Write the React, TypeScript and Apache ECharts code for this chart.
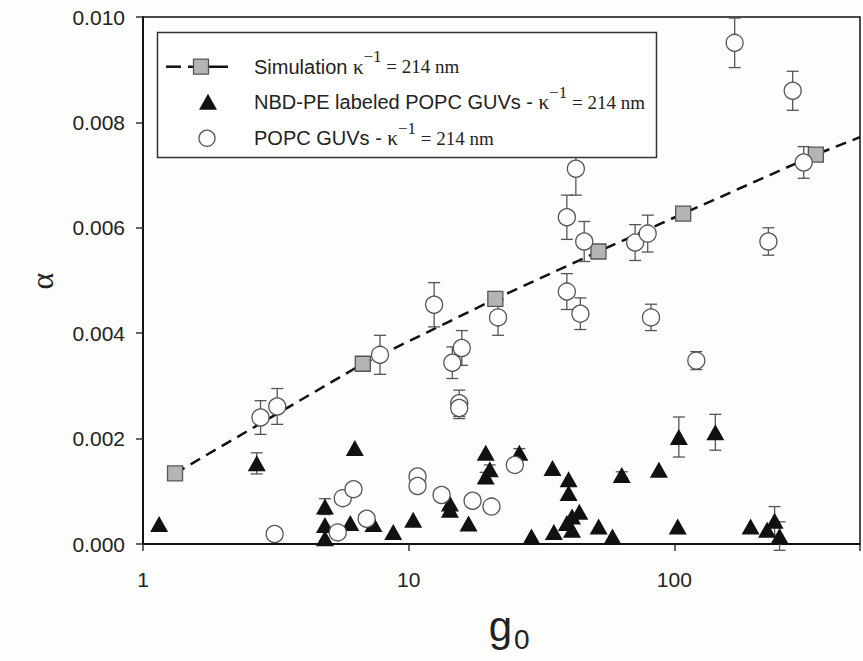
import React, { useEffect, useRef } from 'react';
import * as echarts from 'echarts';

// ---- data ----
const xTickValues = [1, 10, 100];
const yTickStep = 0.002;

// Simulation (kappa^-1 = 214 nm)
const simG = [1.32, 6.72, 21.2, 51.8, 108, 341];
const simA = [0.00134, 0.00342, 0.00465, 0.00555, 0.00627, 0.00739];
const simLineEndG = 500;
const simLineEndA = 0.00772;

// NBD-PE labeled POPC GUVs
const nbdG = [1.15, 2.68, 4.84, 4.84, 4.84, 6.27, 6.03, 7.37, 8.75, 10.4, 14.3, 14.3, 16.8, 19.5, 20.2, 19.5, 26.1, 29, 34.8, 35.2, 40, 40, 39.4, 41.2, 43.9, 41.2, 51.9, 58.5, 63.4, 87.5, 104, 103, 142.7, 193.7, 223.5, 238.5, 249];
const nbdA = [0.00038, 0.00153, 0.00071, 0.00036, 0.00011, 0.00182, 0.0004, 0.00038, 0.00023, 0.00046, 0.00077, 0.00065, 0.00039, 0.00173, 0.00142, 0.00128, 0.00173, 0.00014, 0.00144, 0.00023, 0.00123, 0.00097, 0.0004, 0.00052, 0.00061, 0.00027, 0.00033, 0.00014, 0.00131, 0.00141, 0.00203, 0.00033, 0.00212, 0.00033, 0.00027, 0.00044, 0.00015];
const nbdErr = [0, 0.0002, 0.00015, 0, 0, 0, 0, 0, 0, 0, 0, 0, 0, 0, 0.00008, 0.00008, 0.00008, 0, 0, 0, 0, 0, 0, 0, 0, 0, 0, 0, 0.00006, 0, 0.00038, 0, 0.00034, 0, 0, 0.00027, 0.00027];

// POPC GUVs
const popcG = [2.77, 3.2, 3.13, 5.41, 5.65, 6.2, 6.95, 10.8, 10.8, 13.3, 17.4, 20.5, 25.1, 7.8, 12.47, 14.6, 15.85, 15.5, 15.5, 21.7, 39.4, 39.4, 42.6, 44.3, 45.8, 71.2, 79.4, 81.7, 121, 168.7, 226, 279, 307];
const popcA = [0.0024, 0.00261, 0.00019, 0.00022, 0.00087, 0.00104, 0.00048, 0.00128, 0.0011, 0.00093, 0.00082, 0.00071, 0.0015, 0.00359, 0.00454, 0.00344, 0.00372, 0.00267, 0.00258, 0.0043, 0.0062, 0.00479, 0.00712, 0.00437, 0.00574, 0.00572, 0.00589, 0.0043, 0.00348, 0.00951, 0.00574, 0.0086, 0.00724];
const popcErr = [0.00032, 0.00034, 0, 0, 0, 0, 0, 0, 0, 0, 0, 0, 0, 0.00037, 0.00042, 0.0003, 0.00033, 0.00025, 0.0002, 0.00034, 0.00042, 0.00034, 0.0005, 0.0003, 0.00038, 0.00034, 0.00035, 0.00025, 0.00017, 0.00047, 0.00026, 0.00037, 0.0003];

const SANS = '"Liberation Sans", Arial, Helvetica, sans-serif';
const SERIF = '"Liberation Serif", "Times New Roman", serif';

type Frag = { text: string; family: string; size: number; dy?: number };

export default function App() {
  const ref = useRef<HTMLDivElement>(null);
  useEffect(() => {
    if (!ref.current) return;
    const chart = echarts.init(ref.current, undefined, { renderer: 'svg' });
    const ctx = document.createElement('canvas').getContext('2d')!;

    const frags = (x0: number, y: number, parts: Frag[]) => {
      let x = x0;
      const out: any[] = [];
      for (const p of parts) {
        ctx.font = `${p.size}px ${p.family}`;
        const w = ctx.measureText(p.text).width;
        out.push({
          type: 'text',
          x,
          y: y + (p.dy || 0),
          z: 101,
          style: {
            text: p.text,
            fontSize: p.size,
            fontFamily: p.family,
            fill: '#222',
            align: 'left',
            verticalAlign: 'middle',
            textAlign: 'left',
            textVerticalAlign: 'middle',
          },
        });
        x += w;
      }
      return out;
    };

    const kappaParts = (prefix: string): Frag[] => [
      { text: prefix, family: SANS, size: 20 },
      { text: 'κ', family: SERIF, size: 21 },
      { text: '−1', family: SERIF, size: 17, dy: -10 },
      { text: ' = 214 nm', family: SERIF, size: 19 },
    ];

    const rowY = [66.7, 102.3, 138.3];
    const textX = 254;

    const errSeries = (g: number[], a: number[], e: number[]) => ({
      type: 'custom',
      z: 2,
      silent: true,
      data: g.map((v, i) => [v, a[i], e[i]]),
      renderItem: (_p: any, api: any) => {
        const x = api.value(0);
        const y = api.value(1);
        const er = api.value(2);
        if (!er) return null;
        const top = api.coord([x, y + er]);
        const bot = api.coord([x, y - er]);
        const st = { stroke: '#555', lineWidth: 1.3 };
        const cw = 6;
        return {
          type: 'group',
          children: [
            { type: 'line', shape: { x1: top[0], y1: top[1], x2: bot[0], y2: bot[1] }, style: st },
            { type: 'line', shape: { x1: top[0] - cw, y1: top[1], x2: top[0] + cw, y2: top[1] }, style: st },
            { type: 'line', shape: { x1: bot[0] - cw, y1: bot[1], x2: bot[0] + cw, y2: bot[1] }, style: st },
          ],
        };
      },
    });

    const option: any = {
      animation: false,
      backgroundColor: '#fdfdfb',
      grid: {
        left: 143,
        top: 17,
        right: 1,
        bottom: 117,
        show: true,
        borderColor: '#111',
        borderWidth: 1.5,
        backgroundColor: 'transparent',
      },
      xAxis: {
        type: 'log',
        logBase: 10,
        min: 1,
        max: simLineEndG,
        axisLine: { show: true, lineStyle: { color: '#111', width: 2 } },
        axisTick: { show: true, inside: false, length: 7, lineStyle: { color: '#333', width: 1.5 } },
        minorTick: { show: false },
        splitLine: { show: false },
        axisLabel: {
          margin: 25,
          fontSize: 21,
          fontFamily: SANS,
          color: '#222',
          formatter: (v: number) => {
            const r = Math.round(v);
            return xTickValues.includes(r) && Math.abs(v - r) < 1e-6 * r + 1e-9 ? String(r) : '';
          },
        },
      },
      yAxis: {
        type: 'value',
        min: 0,
        max: 0.01,
        interval: yTickStep,
        axisLine: { show: true, lineStyle: { color: '#111', width: 2 } },
        axisTick: { show: true, inside: false, length: 7, lineStyle: { color: '#333', width: 1.5 } },
        splitLine: { show: false },
        axisLabel: {
          margin: 18,
          fontSize: 21,
          fontFamily: SANS,
          color: '#222',
          formatter: (v: number) => v.toFixed(3),
        },
      },
      series: [
        {
          type: 'line',
          z: 1,
          data: [...simG.map((g, i) => [g, simA[i]]), [simLineEndG, simLineEndA]],
          showSymbol: false,
          symbol: 'none',
          lineStyle: { color: '#111', width: 2.5, type: [11, 7] },
          silent: true,
        },
        errSeries(nbdG, nbdA, nbdErr),
        errSeries(popcG, popcA, popcErr),
        {
          type: 'scatter',
          z: 3,
          symbol: 'rect',
          symbolSize: 15,
          data: simG.map((g, i) => [g, simA[i]]),
          itemStyle: { color: '#b4b4b4', borderColor: '#555', borderWidth: 1.3, opacity: 1 },
        },
        {
          type: 'scatter',
          z: 4,
          symbol: 'triangle',
          symbolSize: [18, 16],
          data: nbdG.map((g, i) => [g, nbdA[i]]),
          itemStyle: { color: '#111', opacity: 1 },
        },
        {
          type: 'scatter',
          z: 5,
          symbol: 'circle',
          symbolSize: 17,
          data: popcG.map((g, i) => [g, popcA[i]]),
          itemStyle: { color: '#fff', borderColor: '#555', borderWidth: 1.3, opacity: 1 },
        },
      ],
      graphic: [
        // legend box
        {
          type: 'rect',
          z: 100,
          shape: { x: 157.5, y: 32.5, width: 499, height: 125 },
          style: { fill: '#fff', stroke: '#333', lineWidth: 1.5 },
        },
        { type: 'line', z: 101, shape: { x1: 166, y1: rowY[0], x2: 181, y2: rowY[0] }, style: { stroke: '#111', lineWidth: 2.5 } },
        { type: 'line', z: 101, shape: { x1: 188, y1: rowY[0], x2: 228, y2: rowY[0] }, style: { stroke: '#111', lineWidth: 2.5 } },
        {
          type: 'rect', z: 102,
          shape: { x: 201 - 7.5, y: rowY[0] - 7.5, width: 15, height: 15 },
          style: { fill: '#b4b4b4', stroke: '#555', lineWidth: 1.3 },
        },
        {
          type: 'polygon', z: 101,
          shape: { points: [[208 - 9, rowY[1] + 7.5], [208 + 9, rowY[1] + 7.5], [208, rowY[1] - 8.5]] },
          style: { fill: '#111' },
        },
        {
          type: 'circle', z: 101,
          shape: { cx: 207, cy: rowY[2], r: 8 },
          style: { fill: '#fff', stroke: '#555', lineWidth: 1.3 },
        },
        ...frags(textX, rowY[0], kappaParts('Simulation ')),
        ...frags(textX, rowY[1], kappaParts('NBD-PE labeled POPC GUVs - ')),
        ...frags(textX, rowY[2], kappaParts('POPC GUVs - ')),
        // y axis title
        {
          type: 'text',
          x: 42,
          y: 281,
          rotation: Math.PI / 2,
          style: {
            text: 'α',
            fontSize: 32,
            fontFamily: SERIF,
            fill: '#222',
            align: 'center',
            verticalAlign: 'middle',
            textAlign: 'center',
            textVerticalAlign: 'middle',
          },
        },
        // x axis title g0
        {
          type: 'text',
          x: 512,
          y: 626,
          style: {
            text: 'g',
            fontSize: 42,
            fontFamily: SANS,
            fill: '#222',
            align: 'right',
            verticalAlign: 'middle',
            textAlign: 'right',
            textVerticalAlign: 'middle',
          },
        },
        {
          type: 'text',
          x: 514,
          y: 639,
          style: {
            text: '0',
            fontSize: 28,
            fontFamily: SANS,
            fill: '#222',
            align: 'left',
            verticalAlign: 'middle',
            textAlign: 'left',
            textVerticalAlign: 'middle',
          },
        },
      ],
    };

    chart.setOption(option);
    return () => chart.dispose();
  }, []);

  return (
    <div
      ref={ref}
      style={{ position: 'absolute', left: 0, top: 0, width: 863, height: 661 }}
    />
  );
}
